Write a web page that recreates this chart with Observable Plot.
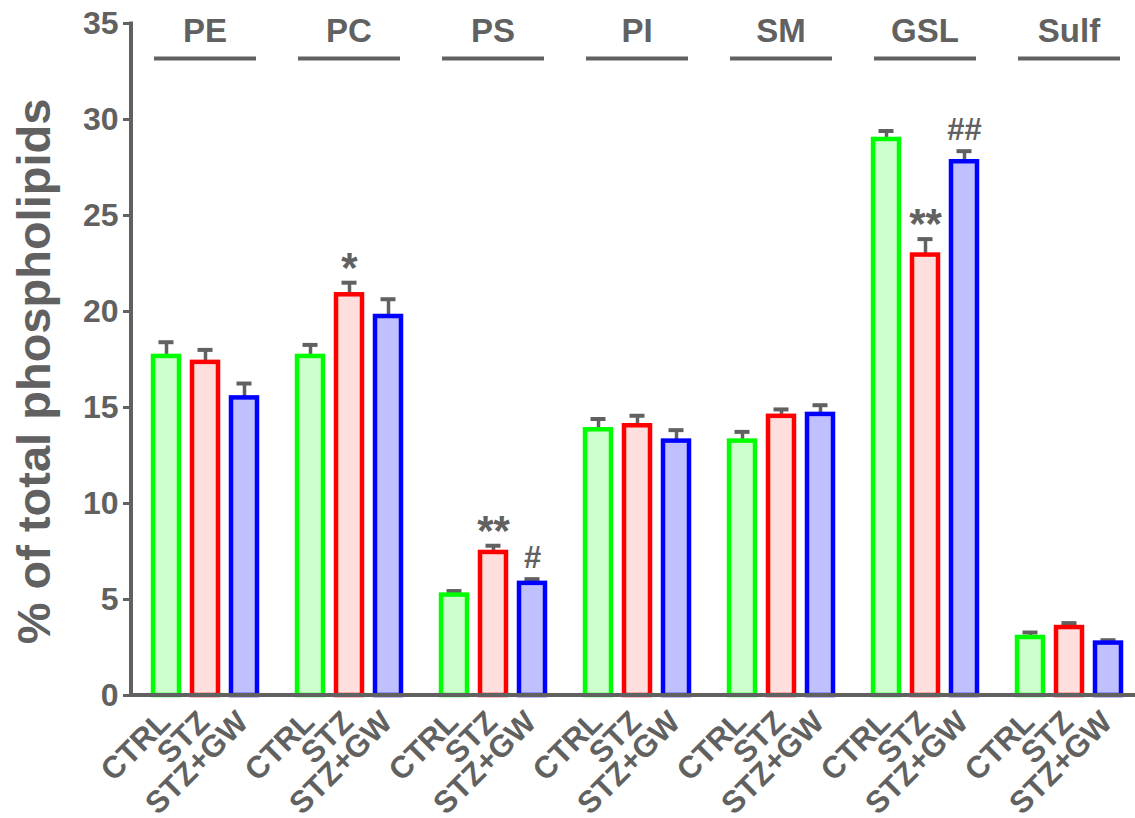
<!DOCTYPE html>
<html><head><meta charset="utf-8">
<script src="https://cdn.jsdelivr.net/npm/d3@7"></script>
<script src="https://cdn.jsdelivr.net/npm/@observablehq/plot@0.6"></script>
<style>
html,body{margin:0;padding:0;background:#fff;}
#chart svg{display:block;}
</style></head>
<body><div id="chart"></div>
<script>
// ---- data ----
const groups = ["PE","PC","PS","PI","SM","GSL","Sulf"];
const treatments = ["CTRL","STZ","STZ+GW"];
const ctrlMean = [17.66,17.66,5.23,13.84,13.25,28.96,3.02];
const ctrlSem  = [0.74,0.6,0.21,0.56,0.48,0.44,0.26];
const stzMean  = [17.35,20.87,7.45,14.05,14.54,22.94,3.54];
const stzSem   = [0.65,0.63,0.35,0.52,0.36,0.83,0.23];
const gwMean   = [15.5,19.74,5.84,13.25,14.64,27.8,2.73];
const gwSem    = [0.75,0.9,0.22,0.57,0.48,0.55,0.15];
const stzMarks = ["","*","**","","","**",""];
const gwMarks  = ["","","#","","","##",""];
const yTicks = [0,5,10,15,20,25,30,35];
const yTitle = "% of total phospholipids";
const fillColors = ["#ccffcc","#ffdede","#c0c0ff"];
const strokeColors = ["#00ff00","#ff0000","#0000ff"];
const gray = "#616161";

const means = [ctrlMean, stzMean, gwMean];
const sems = [ctrlSem, stzSem, gwSem];
const marks = [groups.map(() => ""), stzMarks, gwMarks];
const data = [];
groups.forEach((g, gi) => treatments.forEach((t, ti) => {
  data.push({group: g, treatment: t, ti, mean: means[ti][gi], sem: sems[ti][gi], mark: marks[ti][gi]});
}));
const yMid = (yTicks[0] + yTicks[yTicks.length - 1]) / 2;

const plot = Plot.plot({
  width: 1135, height: 818,
  marginLeft: 131, marginRight: 0, marginTop: 23, marginBottom: 123,
  style: {fontFamily: "'Liberation Sans', Arial, sans-serif", fontWeight: "bold", color: gray, background: "#fff", overflow: "visible"},
  fx: {domain: groups, paddingInner: 0.272, paddingOuter: 0.117, align: 0.59, axis: null},
  x: {domain: treatments, paddingInner: 0.342, paddingOuter: 0, axis: null},
  y: {domain: [0, 35], axis: null},
  color: {type: "identity"},
  marks: [
    Plot.axisY({ticks: yTicks, tickSize: 9, tickPadding: 5, fontSize: 32, strokeWidth: 3, dx: -20, label: null, tickFormat: d => String(d)}),
    Plot.text(data, {fx: "group", x: "treatment", frameAnchor: "bottom", text: "treatment", rotate: -45, textAnchor: "end", lineAnchor: "top", dx: -10, dy: 13, fontSize: 31, fill: gray}),
    Plot.ruleX(data, {fx: "group", x: "treatment", y1: "mean", y2: d => d.mean + d.sem, stroke: gray, strokeWidth: 3.5}),
    Plot.tickY(data, {fx: "group", x: "treatment", y: d => d.mean + d.sem, stroke: gray, strokeWidth: 4, insetLeft: 5.5, insetRight: 5.5}),
    Plot.barY(data, {fx: "group", x: "treatment", y: "mean", fill: d => fillColors[d.ti], stroke: d => strokeColors[d.ti], strokeWidth: 4.5}),
    Plot.text(data.filter(d => d.mark.includes("*")), {fx: "group", x: "treatment", y: d => d.mean + d.sem, text: "mark", lineAnchor: "bottom", dy: -1, fontSize: 42, fill: gray}),
    Plot.text(data.filter(d => d.mark.includes("#")), {fx: "group", x: "treatment", y: d => d.mean + d.sem, text: "mark", lineAnchor: "bottom", dy: -11, fontSize: 31, fill: gray}),
    Plot.text(groups, {fx: d => d, text: d => d, frameAnchor: "top", lineAnchor: "bottom", dy: 18, fontSize: 33, fill: gray}),
    Plot.ruleY(groups, {fx: d => d, y: () => yTicks[yTicks.length - 1], dy: 35, stroke: gray, strokeWidth: 4, insetLeft: 2, insetRight: 1}),
    Plot.text([groups[0]], {fx: d => d, y: () => yMid, text: () => yTitle, frameAnchor: "left", textAnchor: "middle", lineAnchor: "middle", rotate: -90, dx: -118, dy: 12, fontSize: 47, fill: gray})
  ]
});

// axis lines across the full frame, positioned by the y scale
const ys = plot.scale("y");
const y0 = ys.apply(0), yTop = ys.apply(yTicks[yTicks.length - 1]);
const svg = d3.select(plot);
svg.append("line").attr("x1", 131).attr("x2", 131).attr("y1", yTop - 1.5).attr("y2", y0 + 2)
  .attr("stroke", gray).attr("stroke-width", 4);
svg.append("line").attr("x1", 129).attr("x2", 1135).attr("y1", y0).attr("y2", y0)
  .attr("stroke", gray).attr("stroke-width", 4);

document.getElementById("chart").appendChild(plot);
</script>
</body></html>
